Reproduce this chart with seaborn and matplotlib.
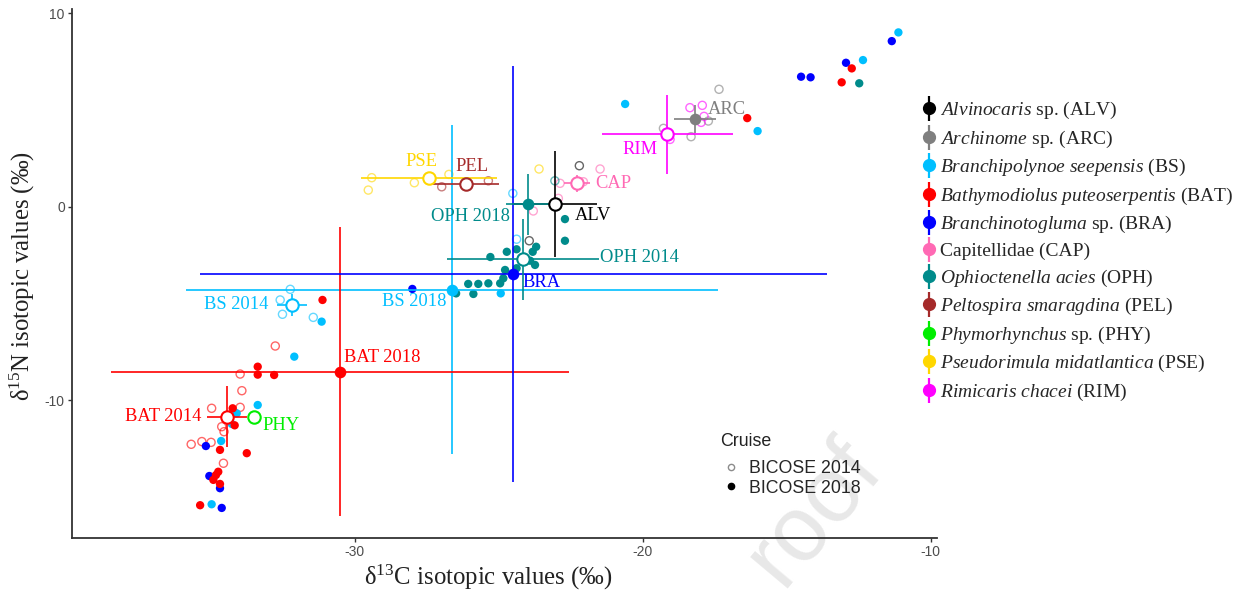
import numpy as np
import pandas as pd
import matplotlib
matplotlib.use("Agg")
import matplotlib.pyplot as plt
import seaborn as sns
from matplotlib.lines import Line2D
from matplotlib.legend_handler import HandlerTuple
from matplotlib.font_manager import FontProperties

# ---------------- data ----------------
species_codes = ["ALV", "ARC", "BS", "BAT", "BRA", "CAP", "OPH", "PEL", "PHY", "PSE", "RIM"]
species_names = [r"$\mathit{Alvinocaris}$ sp. (ALV)",
                 r"$\mathit{Archinome}$ sp. (ARC)",
                 r"$\mathit{Branchipolynoe\ seepensis}$ (BS)",
                 r"$\mathit{Bathymodiolus\ puteoserpentis}$ (BAT)",
                 r"$\mathit{Branchinotogluma}$ sp. (BRA)",
                 "Capitellidae (CAP)",
                 r"$\mathit{Ophioctenella\ acies}$ (OPH)",
                 r"$\mathit{Peltospira\ smaragdina}$ (PEL)",
                 r"$\mathit{Phymorhynchus}$ sp. (PHY)",
                 r"$\mathit{Pseudorimula\ midatlantica}$ (PSE)",
                 r"$\mathit{Rimicaris\ chacei}$ (RIM)"]
species_colors = ["#000000", "#7F7F7F", "#00BFFF", "#FF0000", "#0000FF", "#FF69B4",
                  "#008B8B", "#A52A2A", "#00EE00", "#FFD700", "#FF00FF"]

# BICOSE 2014 individual values (open symbols)
p14_sp = ["BS", "BS", "BS", "BS", "BS", "BS",
          "BAT", "BAT", "BAT", "BAT", "BAT", "BAT", "BAT", "BAT", "BAT", "BAT", "BAT",
          "ARC", "ARC", "ARC", "ARC", "ALV", "ALV",
          "RIM", "RIM", "RIM", "RIM", "RIM",
          "CAP", "CAP", "CAP", "CAP", "CAP",
          "OPH",
          "PSE", "PSE", "PSE", "PSE", "PSE",
          "PEL", "PEL"]
p14_x = [-32.24, -32.59, -32.51, -31.44, -24.51, -24.38,
         -32.76, -33.98, -33.92, -34.97, -33.98, -34.62, -35.68, -35.31, -34.99, -34.56, -34.54,
         -17.35, -17.72, -18.32, -19.28, -22.20, -23.94,
         -18.36, -17.93, -17.87, -17.97, -19.05,
         -21.48, -22.87, -22.93, -23.80, -22.06,
         -23.05,
         -29.41, -29.53, -27.93, -26.73, -23.60,
         -26.98, -25.36]
p14_y = [-4.27, -4.82, -5.56, -5.72, 0.69, -1.68,
         -7.20, -8.65, -9.51, -10.42, -10.37, -11.37, -12.28, -12.14, -12.18, -13.26, -11.63,
         6.07, 4.43, 3.62, 4.05, 2.12, -1.76,
         5.12, 5.24, 4.67, 4.36, 3.48,
         1.95, 1.21, 0.43, -0.22, 1.29,
         1.34,
         1.50, 0.86, 1.24, 1.67, 1.95,
         1.03, 1.34]

# BICOSE 2018 individual values (filled symbols)
p18_sp = ["BS"] * 12 + ["BRA"] * 9 + ["BAT"] * 16 + ["OPH"] * 19
p18_x = [-11.12, -12.35, -16.01, -20.61, -24.93, -31.15, -32.10, -33.37, -34.10, -34.27, -34.64, -34.97,
         -11.35, -12.94, -14.50, -14.17, -28.00, -35.17, -35.05, -34.68, -34.62,
         -12.74, -13.09, -16.37, -31.12, -33.37, -33.37, -32.80, -34.24, -34.17, -34.68, -33.75,
         -34.74, -34.82, -34.91, -34.68, -35.37,
         -12.48, -22.70, -22.70, -25.29, -24.72, -24.38, -23.82, -23.70, -23.91, -23.74, -24.38,
         -24.78, -24.84, -24.95, -25.36, -25.71, -26.06, -25.88, -26.48]
p18_y = [9.01, 7.58, 3.91, 5.31, -4.48, -5.94, -7.75, -10.25, -10.68, -11.23, -12.11, -15.38,
         8.56, 7.44, 6.72, 6.69, -4.25, -12.37, -13.92, -14.55, -15.57,
         7.15, 6.43, 4.58, -4.82, -8.27, -8.68, -8.70, -10.42, -11.30, -12.57, -12.74,
         -13.70, -13.87, -14.12, -14.33, -15.43,
         6.38, -0.64, -1.76, -2.60, -2.33, -2.20, -2.33, -2.07, -2.79, -3.01, -3.18,
         -3.27, -3.70, -3.96, -3.96, -3.99, -3.99, -4.51, -4.48]

# group means +/- SD
m_sp = ["ALV", "ARC", "BS", "BS", "BAT", "BAT", "BRA", "CAP", "OPH", "OPH", "PEL", "PHY", "PSE", "RIM"]
m_label = ["ALV", "ARC", "BS 2014", "BS 2018", "BAT 2014", "BAT 2018", "BRA", "CAP",
           "OPH 2014", "OPH 2018", "PEL", "PHY", "PSE", "RIM"]
m_cruise = ["2014", "2018", "2014", "2018", "2014", "2018", "2018", "2014",
            "2014", "2018", "2014", "2014", "2014", "2014"]
m_x = [-23.05, -18.19, -32.19, -26.63, -34.44, -30.52, -24.49, -22.29, -24.17, -23.97, -26.15, -33.50, -27.42, -19.15]
m_y = [0.14, 4.55, -5.08, -4.30, -10.85, -8.53, -3.49, 1.21, -2.72, 0.12, 1.16, -10.85, 1.47, 3.74]
m_xerr = [1.48, 0.73, 0.52, 9.24, 0.70, 7.95, 10.90, 0.46, 2.64, 0.79, 1.16, 0.15, 2.37, 2.28]
m_yerr = [2.75, 0.72, 0.56, 8.50, 1.57, 7.47, 10.75, 0.43, 2.11, 1.58, 0.10, 0.0, 0.25, 2.05]

x_ticks = [-30, -20, -10]
y_ticks = [-10, 0, 10]

# ---------------- plotting ----------------
sns.set_theme(style="white")
plt.rcParams["mathtext.fontset"] = "custom"
plt.rcParams["mathtext.rm"] = "Liberation Serif"
plt.rcParams["mathtext.it"] = "Liberation Serif:italic"
plt.rcParams["mathtext.bf"] = "Liberation Serif:bold"
plt.rcParams["font.family"] = ["Liberation Sans", "DejaVu Sans"]
plt.rcParams["axes.unicode_minus"] = False

pal = dict(zip(species_codes, species_colors))

df14 = pd.DataFrame({"sp": p14_sp, "x": p14_x, "y": p14_y})
df18 = pd.DataFrame({"sp": p18_sp, "x": p18_x, "y": p18_y})
dfm = pd.DataFrame({"sp": m_sp, "label": m_label, "cruise": m_cruise, "x": m_x, "y": m_y,
                    "xerr": m_xerr, "yerr": m_yerr})

W, H = 1245, 592
fig = plt.figure(figsize=(W / 100, H / 100), dpi=100)
ax = fig.add_axes([71.7 / W, 53.7 / H, (936.7 - 71.7) / W, (538.3 - 9) / H])
ax.patch.set_alpha(0)

# watermark
fig.text(814 / W, 1 - 512 / H, "roof", rotation=50, fontsize=66, color="#E8E8E8",
         ha="center", va="center", family="Liberation Sans", zorder=-5)

# 2014 open points
sns.scatterplot(data=df14, x="x", y="y", hue="sp", palette=pal, s=34, alpha=0.6,
                linewidth=1.0, legend=False, ax=ax, zorder=2)
coll = ax.collections[-1]
fc = coll.get_facecolors()
coll.set_edgecolors(fc)
coll.set_facecolors("none")

# 2018 filled points
sns.scatterplot(data=df18, x="x", y="y", hue="sp", palette=pal, s=36, linewidth=0,
                legend=False, ax=ax, zorder=3)

# means with SD bars
for _, r in dfm.iterrows():
    c = pal[r["sp"]]
    ax.errorbar(r["x"], r["y"], xerr=r["xerr"], yerr=r["yerr"], fmt="none", ecolor=c,
                elinewidth=1.4, capsize=0, alpha=0.85, zorder=4)
    if r["cruise"] == "2014":
        ax.scatter(r["x"], r["y"], s=80, facecolor="white", edgecolor=c, linewidth=1.5, zorder=5)
    else:
        ax.scatter(r["x"], r["y"], s=70, facecolor=c, edgecolor=c, linewidth=0, zorder=5)

# group labels
lab_pos = {
    "ARC": (-17.73, 5.04, "left"), "RIM": (-20.09, 2.98, "center"), "CAP": (-21.66, 1.22, "left"),
    "ALV": (-22.35, -0.47, "left"), "OPH 2018": (-24.61, -0.52, "right"),
    "OPH 2014": (-21.48, -2.60, "left"), "BRA": (-24.16, -3.93, "left"),
    "BS 2018": (-26.80, -4.91, "right"), "BS 2014": (-33.0, -5.08, "right"),
    "BAT 2018": (-30.37, -7.77, "left"), "BAT 2014": (-35.31, -10.85, "right"),
    "PHY": (-33.22, -11.33, "left"), "PSE": (-27.70, 2.33, "center"), "PEL": (-25.94, 2.07, "center"),
}
for _, r in dfm.iterrows():
    lx, ly, ha = lab_pos[r["label"]]
    ax.text(lx, ly, r["label"], color=pal[r["sp"]], ha=ha, va="center",
            family="Liberation Serif", fontsize=13.3, zorder=6)

# axes styling
ax.set_xlim(-39.83, -9.79)
ax.set_ylim(-17.14, 10.22)
ax.set_xticks(x_ticks)
ax.set_yticks(y_ticks)
for s in ["top", "right"]:
    ax.spines[s].set_visible(False)
for s in ["left", "bottom"]:
    ax.spines[s].set_color("#333333")
    ax.spines[s].set_linewidth(1.3)
ax.tick_params(axis="both", length=3, width=1, color="#333333", labelcolor="#4D4D4D",
               labelsize=10, left=True, bottom=True, pad=2)
ax.set_xlabel(r"δ$^{13}$C isotopic values (‰)", family="Liberation Serif", fontsize=17.8,
              color="#222222")
ax.set_ylabel(r"δ$^{15}$N isotopic values (‰)", family="Liberation Serif", fontsize=17.8,
              color="#222222")
ax.xaxis.set_label_coords((488 - 71.7) / 865, -(577 - 538.3) / 529.3)
ax.yaxis.set_label_coords(-(71.7 - 22) / 865, (538.3 - 276) / 529.3)
ax.xaxis.label.set_va("center")
ax.yaxis.label.set_va("center")
ax.grid(False)

# species legend
sp_handles = []
for c in species_colors:
    sp_handles.append((Line2D([], [], marker="|", markersize=18, markeredgewidth=1.6, color=c, linestyle="None"),
                       Line2D([], [], marker="o", markersize=8.5, color=c, linestyle="None")))
fig.legend(sp_handles, species_names, loc="upper left", bbox_to_anchor=(920 / W, 1 - 100 / H),
           frameon=False, prop=FontProperties(family="Liberation Serif", size=14),
           handler_map={tuple: HandlerTuple(ndivide=1, pad=0)}, handlelength=0.9,
           handletextpad=0.15, labelspacing=0.38, borderaxespad=0, borderpad=0)

# cruise legend
fig.text(720 / W, 1 - 441 / H, "Cruise", ha="left", va="center", family="Liberation Sans",
         fontsize=12.8, color="#222222")
cr_handles = [Line2D([], [], marker="o", markersize=4.5, markerfacecolor="none", markeredgecolor="#8C8C8C",
                     markeredgewidth=1, linestyle="None"),
              Line2D([], [], marker="o", markersize=4.5, markerfacecolor="black", markeredgecolor="black",
                     linestyle="None")]
fig.legend(cr_handles, ["BICOSE 2014", "BICOSE 2018"], loc="upper left",
           bbox_to_anchor=(719 / W, 1 - 460 / H), frameon=False,
           prop=FontProperties(family="Liberation Sans", size=12.8),
           handletextpad=0.4, labelspacing=0.15, borderaxespad=0,
           borderpad=0, handlelength=1.3)

fig.savefig("out.png", dpi=100)
